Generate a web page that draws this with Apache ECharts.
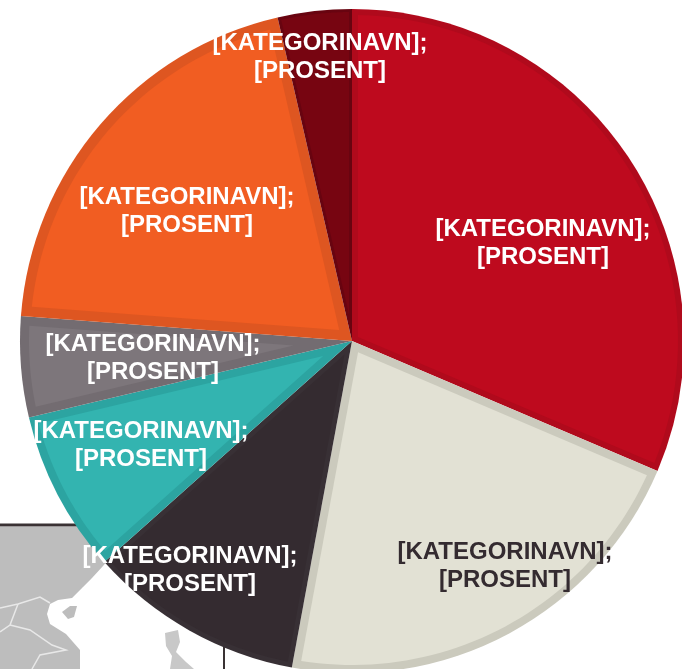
<!DOCTYPE html>
<html>
<head>
<meta charset="utf-8">
<style>
  html, body { margin: 0; padding: 0; background: #fff; }
  #main { width: 682px; height: 669px; }
</style>
<script src="https://cdn.jsdelivr.net/npm/echarts@6/dist/echarts.min.js"></script>
</head>
<body>
<div id="main"></div>
<script>
// data
const categories = ['[KATEGORINAVN]', '[KATEGORINAVN]', '[KATEGORINAVN]', '[KATEGORINAVN]', '[KATEGORINAVN]', '[KATEGORINAVN]', '[KATEGORINAVN]'];
const percentLabels = ['[PROSENT]', '[PROSENT]', '[PROSENT]', '[PROSENT]', '[PROSENT]', '[PROSENT]', '[PROSENT]'];
const values = [31.4, 21.5, 10.5, 7.9, 4.9, 20.2, 3.6];

// style
const fillColors = ['#BE0A1E', '#E2E1D4', '#342B30', '#33B4B0', '#7D767B', '#F15D22', '#770511'];
const edgeColors = ['#B00A1C', '#CBCABD', '#383035', '#2CA4A1', '#736C71', '#DE5621', '#680410'];
const edgeWidths = [6, 8, 5, 8, 9, 10, 3];
const labelColors = ['#fff', '#342B30', '#fff', '#fff', '#fff', '#fff', '#fff'];
const labelCenters = [[543, 243], [505, 566], [190, 570], [141, 445], [153, 358], [187, 211], [320, 57]];
const cx = 352, cy = 341, pieRadius = 332;

const chart = echarts.init(document.getElementById('main'), null, { renderer: 'canvas' });

const total = values.reduce((a, b) => a + b, 0);

// lighter inner part of a slice, the pie underneath shows as the darker rim
function renderInset(params, api) {
  const i = params.dataIndex;
  const d = edgeWidths[i];
  let sum = 0;
  for (let k = 0; k < i; k++) sum += values[k];
  const a0 = sum / total * Math.PI * 2;
  const a1 = (sum + values[i]) / total * Math.PI * 2;
  const half = (a1 - a0) / 2;
  const mid = a0 + half;
  const r = pieRadius - d;
  const delta = Math.asin(d / r);
  const tip = d / Math.sin(half);
  const points = [[cx + tip * Math.sin(mid), cy - tip * Math.cos(mid)]];
  for (let s = 0; s <= 48; s++) {
    const a = a0 + delta + (a1 - a0 - 2 * delta) * s / 48;
    points.push([cx + r * Math.sin(a), cy - r * Math.cos(a)]);
  }
  return {
    type: 'polygon',
    shape: { points: points },
    style: { fill: fillColors[i] }
  };
}

// scrap of the map that sits behind the pie
const mapBits = [
  {
    type: 'polygon', z: 0, silent: true,
    shape: { points: [[0, 527], [80, 527], [108, 560], [103, 566], [92, 578], [83, 587], [72, 598], [58, 600], [50, 604], [47, 614], [50, 624], [66, 634], [80, 650], [80, 669], [0, 669]] },
    style: { fill: '#BDBDBD' }
  },
  {
    type: 'polygon', z: 0, silent: true,
    shape: { points: [[62, 612], [70, 606], [77, 606], [74, 617], [68, 619]] },
    style: { fill: '#BDBDBD' }
  },
  {
    type: 'polygon', z: 0, silent: true,
    shape: { points: [[165, 633], [178, 630], [180, 642], [176, 652], [186, 662], [194, 669], [170, 669], [172, 656], [166, 646]] },
    style: { fill: '#C8C8C8' }
  },
  {
    type: 'polyline', z: 1, silent: true,
    shape: { points: [[0, 608], [18, 604], [40, 597], [50, 603]] },
    style: { stroke: '#E8E8E8', lineWidth: 1.5, fill: null }
  },
  {
    type: 'polyline', z: 1, silent: true,
    shape: { points: [[18, 604], [10, 625], [0, 632]] },
    style: { stroke: '#E8E8E8', lineWidth: 1.5, fill: null }
  },
  {
    type: 'polyline', z: 1, silent: true,
    shape: { points: [[10, 625], [30, 630], [52, 645], [66, 650], [40, 655], [32, 669]] },
    style: { stroke: '#E8E8E8', lineWidth: 1.5, fill: null }
  },
  {
    type: 'line', z: 1, silent: true,
    shape: { x1: 0, y1: 525, x2: 80, y2: 525 },
    style: { stroke: '#3A3234', lineWidth: 3 }
  },
  {
    type: 'line', z: 1, silent: true,
    shape: { x1: 224, y1: 640, x2: 224, y2: 669 },
    style: { stroke: '#3A3234', lineWidth: 2 }
  }
];

const pieData = categories.map((name, i) => ({ name: name, value: values[i] }));

const option = {
  animation: false,
  backgroundColor: '#fff',
  graphic: mapBits,
  series: [
    {
      // rim colours
      type: 'pie',
      center: [cx, cy],
      radius: [0, pieRadius],
      startAngle: 90,
      silent: true,
      z: 5,
      data: pieData,
      itemStyle: { color: (p) => edgeColors[p.dataIndex] },
      label: { show: false },
      labelLine: { show: false }
    },
    {
      type: 'custom',
      coordinateSystem: 'none',
      silent: true,
      z: 6,
      data: values,
      renderItem: renderInset
    },
    {
      // same slices again, only here for the labels on top
      type: 'pie',
      center: [cx, cy],
      radius: [0, pieRadius],
      startAngle: 90,
      silent: true,
      z: 7,
      avoidLabelOverlap: false,
      data: pieData.map((d, i) => Object.assign({}, d, { label: { color: labelColors[i] } })),
      itemStyle: { color: 'rgba(0,0,0,0)' },
      label: {
        show: true,
        position: 'inside',
        fontFamily: 'Liberation Sans',
        fontWeight: 'bold',
        fontSize: 24,
        lineHeight: 28,
        align: 'center',
        formatter: (p) => p.name + ';\n' + percentLabels[p.dataIndex]
      },
      labelLine: { show: false },
      labelLayout: (p) => ({
        x: labelCenters[p.dataIndex][0],
        y: labelCenters[p.dataIndex][1],
        align: 'center',
        verticalAlign: 'middle'
      })
    }
  ]
};

chart.setOption(option);
</script>
</body>
</html>
